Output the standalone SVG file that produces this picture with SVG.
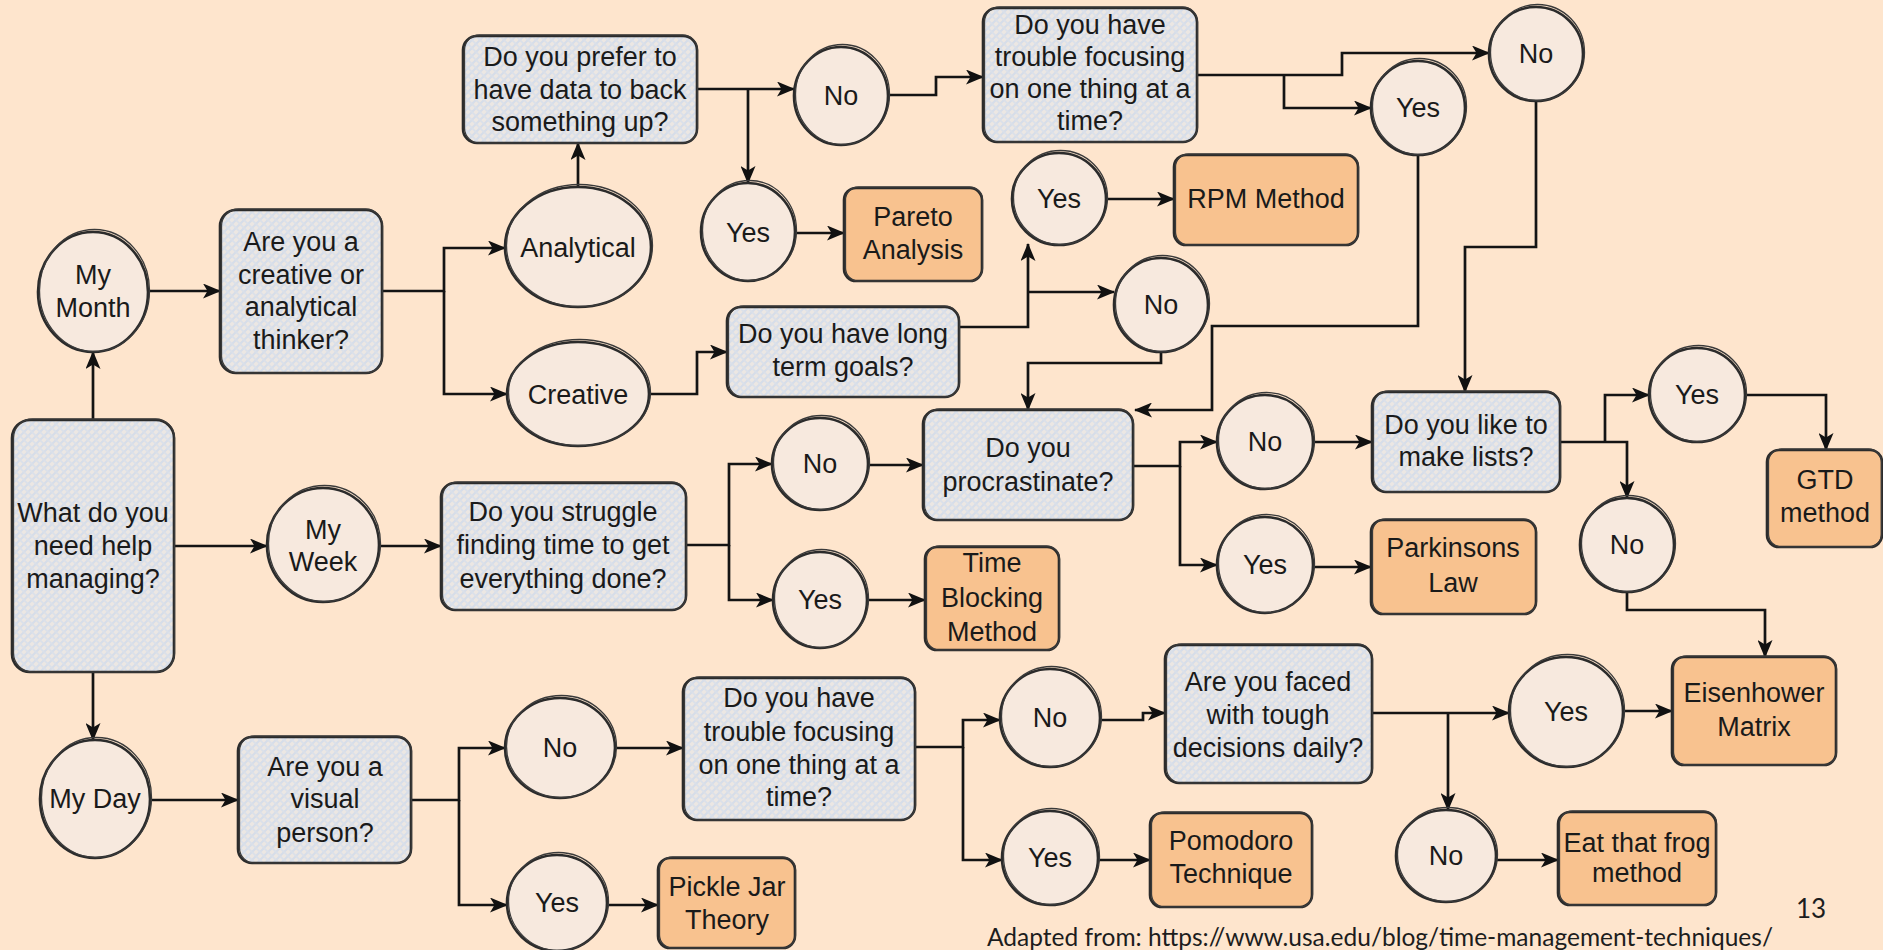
<svg xmlns="http://www.w3.org/2000/svg" width="1883" height="950" viewBox="0 0 1883 950">
<defs>
<pattern id="hatch" patternUnits="userSpaceOnUse" width="8" height="8">
<rect width="8" height="8" fill="#ECE7E3"/>
<path d="M0,8 L8,0 M-2,2 L2,-2 M6,10 L10,6" stroke="#D6DDE9" stroke-width="2"/>
<path d="M0,0 L8,8 M-2,6 L2,10 M6,-2 L10,2" stroke="#DAE0EA" stroke-width="1.6"/>
</pattern>
<marker id="arr" viewBox="0 0 18 15" refX="17" refY="7.5" markerWidth="18" markerHeight="15" markerUnits="userSpaceOnUse" orient="auto">
<path d="M0,0 L18,7.5 L0,15 L4.5,7.5 z" fill="#111"/>
</marker>
</defs>
<style>
.q{fill:url(#hatch);stroke:#2b2b2b;stroke-width:2.6}
.r{fill:#F8C28F;stroke:#2b2b2b;stroke-width:2.6}
.c{fill:#F7E9DE;stroke:#2b2b2b;stroke-width:2.6}
.sk{fill:none;stroke:#3a3a3a;stroke-width:1.3}
.t{font-family:"Liberation Sans",Arial,sans-serif;font-size:27px;fill:#1a1a1a;text-anchor:middle}
.e{fill:none;stroke:#141414;stroke-width:2.7;marker-end:url(#arr)}
.f{font-family:Lato,"Liberation Sans",sans-serif;fill:#1d1d1d}
</style>
<rect width="1883" height="950" fill="#FEE5CD"/>

<g id="connectors">
<path class="e" d="M93,420 V352"/>
<path class="e" d="M93,672 V740"/>
<path class="e" d="M174,546 H267"/>
<path class="e" d="M148,291 H220"/>
<path class="e" d="M382,291 H444 V248 H505"/>
<path class="e" d="M444,291 V394 H507"/>
<path class="e" d="M578,187 V143"/>
<path class="e" d="M697,89 H794"/>
<path class="e" d="M748,89 V183"/>
<path class="e" d="M795,233 H844"/>
<path class="e" d="M888,95 H936 V77 H983"/>
<path class="e" d="M1197,75 H1342 V53 H1489"/>
<path class="e" d="M1284,75 V108 H1371"/>
<path class="e" d="M1536,101 V247 H1465 V392"/>
<path class="e" d="M1418,155 V326 H1212 V410 H1135"/>
<path class="e" d="M649,394 H697 V352 H727"/>
<path class="e" d="M959,327 H1028 V244"/>
<path class="e" d="M1028,292 H1114"/>
<path class="e" d="M1106,199 H1174"/>
<path class="e" d="M1161,352 V363 H1028 V410"/>
<path class="e" d="M379,546 H441"/>
<path class="e" d="M686,545 H729 V464 H772"/>
<path class="e" d="M729,545 V600 H773"/>
<path class="e" d="M868,465 H923"/>
<path class="e" d="M867,600 H925"/>
<path class="e" d="M1133,466 H1180 V442 H1217"/>
<path class="e" d="M1180,466 V565 H1217"/>
<path class="e" d="M1313,442 H1372"/>
<path class="e" d="M1313,567 H1371"/>
<path class="e" d="M1560,442 H1627 V498"/>
<path class="e" d="M1605,442 V395 H1649"/>
<path class="e" d="M1745,395 H1826 V450"/>
<path class="e" d="M1627,592 V610 H1765 V657"/>
<path class="e" d="M150,800 H238"/>
<path class="e" d="M411,800 H459 V748 H505"/>
<path class="e" d="M459,800 V905 H507"/>
<path class="e" d="M607,905 H658"/>
<path class="e" d="M615,748 H683"/>
<path class="e" d="M915,747 H963 V720 H1000"/>
<path class="e" d="M963,747 V860 H1002"/>
<path class="e" d="M1100,720 H1143 V713 H1165"/>
<path class="e" d="M1372,713 H1509"/>
<path class="e" d="M1448,713 V810"/>
<path class="e" d="M1623,711 H1672"/>
<path class="e" d="M1098,860 H1150"/>
<path class="e" d="M1496,860 H1558"/>
</g>

<g id="what"><rect class="q" x="12" y="420" width="162" height="252" rx="18"/><rect class="sk" x="13.5" y="419" width="161" height="253" rx="19"/><text class="t" x="93" y="522">What do you</text><text class="t" x="93" y="555">need help</text><text class="t" x="93" y="588">managing?</text></g>
<g id="mymonth"><ellipse class="c" cx="93" cy="292" rx="55" ry="60"/><ellipse class="sk" cx="94.5" cy="290.5" rx="55" ry="61"/><text class="t" x="93" y="284">My</text><text class="t" x="93" y="317">Month</text></g>
<g id="areyou"><rect class="q" x="220" y="210" width="162" height="163" rx="16"/><rect class="sk" x="221.5" y="209" width="161" height="164" rx="17"/><text class="t" x="301" y="251">Are you a</text><text class="t" x="301" y="284">creative or</text><text class="t" x="301" y="316">analytical</text><text class="t" x="301" y="349">thinker?</text></g>
<g id="analytical"><ellipse class="c" cx="578" cy="247" rx="73" ry="60"/><ellipse class="sk" cx="579.5" cy="245.5" rx="73" ry="61"/><text class="t" x="578" y="257">Analytical</text></g>
<g id="creative"><ellipse class="c" cx="578" cy="394" rx="71" ry="52"/><ellipse class="sk" cx="579.5" cy="392.5" rx="71" ry="53"/><text class="t" x="578" y="404">Creative</text></g>
<g id="prefer"><rect class="q" x="463" y="36" width="234" height="107" rx="14"/><rect class="sk" x="464.5" y="35" width="233" height="108" rx="15"/><text class="t" x="580" y="66">Do you prefer to</text><text class="t" x="580" y="99">have data to back</text><text class="t" x="580" y="131">something up?</text></g>
<g id="no1"><ellipse class="c" cx="841" cy="96" rx="47" ry="49"/><ellipse class="sk" cx="842.5" cy="94.5" rx="47" ry="50"/><text class="t" x="841" y="105">No</text></g>
<g id="yes1"><ellipse class="c" cx="748" cy="232" rx="47" ry="49"/><ellipse class="sk" cx="749.5" cy="230.5" rx="47" ry="50"/><text class="t" x="748" y="242">Yes</text></g>
<g id="pareto"><rect class="r" x="844" y="188" width="138" height="93" rx="12"/><rect class="sk" x="845.5" y="187" width="137" height="94" rx="13"/><text class="t" x="913" y="226">Pareto</text><text class="t" x="913" y="259">Analysis</text></g>
<g id="trouble1"><rect class="q" x="983" y="8" width="214" height="134" rx="14"/><rect class="sk" x="984.5" y="7" width="213" height="135" rx="15"/><text class="t" x="1090" y="34">Do you have</text><text class="t" x="1090" y="66">trouble focusing</text><text class="t" x="1090" y="98">on one thing at a</text><text class="t" x="1090" y="130">time?</text></g>
<g id="no2"><ellipse class="c" cx="1536" cy="54" rx="47" ry="47"/><ellipse class="sk" cx="1537.5" cy="52.5" rx="47" ry="48"/><text class="t" x="1536" y="63">No</text></g>
<g id="yes2"><ellipse class="c" cx="1418" cy="108" rx="47" ry="47"/><ellipse class="sk" cx="1419.5" cy="106.5" rx="47" ry="48"/><text class="t" x="1418" y="117">Yes</text></g>
<g id="longterm"><rect class="q" x="727" y="307" width="232" height="90" rx="14"/><rect class="sk" x="728.5" y="306" width="231" height="91" rx="15"/><text class="t" x="843" y="343">Do you have long</text><text class="t" x="843" y="376">term goals?</text></g>
<g id="yes3"><ellipse class="c" cx="1059" cy="199" rx="47" ry="46"/><ellipse class="sk" cx="1060.5" cy="197.5" rx="47" ry="47"/><text class="t" x="1059" y="208">Yes</text></g>
<g id="rpm"><rect class="r" x="1174" y="155" width="184" height="90" rx="12"/><rect class="sk" x="1175.5" y="154" width="183" height="91" rx="13"/><text class="t" x="1266" y="208">RPM Method</text></g>
<g id="no3"><ellipse class="c" cx="1161" cy="305" rx="47" ry="47"/><ellipse class="sk" cx="1162.5" cy="303.5" rx="47" ry="48"/><text class="t" x="1161" y="314">No</text></g>
<g id="myweek"><ellipse class="c" cx="323" cy="545" rx="56" ry="57"/><ellipse class="sk" cx="324.5" cy="543.5" rx="56" ry="58"/><text class="t" x="323" y="539">My</text><text class="t" x="323" y="571">Week</text></g>
<g id="struggle"><rect class="q" x="441" y="483" width="245" height="127" rx="14"/><rect class="sk" x="442.5" y="482" width="244" height="128" rx="15"/><text class="t" x="563" y="521">Do you struggle</text><text class="t" x="563" y="554">finding time to get</text><text class="t" x="563" y="588">everything done?</text></g>
<g id="no4"><ellipse class="c" cx="820" cy="464" rx="48" ry="46"/><ellipse class="sk" cx="821.5" cy="462.5" rx="48" ry="47"/><text class="t" x="820" y="473">No</text></g>
<g id="yes4"><ellipse class="c" cx="820" cy="600" rx="47" ry="48"/><ellipse class="sk" cx="821.5" cy="598.5" rx="47" ry="49"/><text class="t" x="820" y="609">Yes</text></g>
<g id="timeblock"><rect class="r" x="925" y="547" width="134" height="103" rx="12"/><rect class="sk" x="926.5" y="546" width="133" height="104" rx="13"/><text class="t" x="992" y="572">Time</text><text class="t" x="992" y="607">Blocking</text><text class="t" x="992" y="641">Method</text></g>
<g id="procrast"><rect class="q" x="923" y="410" width="210" height="110" rx="14"/><rect class="sk" x="924.5" y="409" width="209" height="111" rx="15"/><text class="t" x="1028" y="457">Do you</text><text class="t" x="1028" y="491">procrastinate?</text></g>
<g id="no5"><ellipse class="c" cx="1265" cy="442" rx="48" ry="47"/><ellipse class="sk" cx="1266.5" cy="440.5" rx="48" ry="48"/><text class="t" x="1265" y="451">No</text></g>
<g id="yes5"><ellipse class="c" cx="1265" cy="565" rx="48" ry="48"/><ellipse class="sk" cx="1266.5" cy="563.5" rx="48" ry="49"/><text class="t" x="1265" y="574">Yes</text></g>
<g id="lists"><rect class="q" x="1372" y="392" width="188" height="100" rx="14"/><rect class="sk" x="1373.5" y="391" width="187" height="101" rx="15"/><text class="t" x="1466" y="434">Do you like to</text><text class="t" x="1466" y="466">make lists?</text></g>
<g id="parkinsons"><rect class="r" x="1371" y="520" width="165" height="94" rx="12"/><rect class="sk" x="1372.5" y="519" width="164" height="95" rx="13"/><text class="t" x="1453" y="557">Parkinsons</text><text class="t" x="1453" y="592">Law</text></g>
<g id="yes6"><ellipse class="c" cx="1697" cy="395" rx="48" ry="47"/><ellipse class="sk" cx="1698.5" cy="393.5" rx="48" ry="48"/><text class="t" x="1697" y="404">Yes</text></g>
<g id="gtd"><rect class="r" x="1767" y="450" width="115" height="97" rx="12"/><rect class="sk" x="1768.5" y="449" width="113" height="98" rx="13"/><text class="t" x="1825" y="489">GTD</text><text class="t" x="1825" y="522">method</text></g>
<g id="no6"><ellipse class="c" cx="1627" cy="545" rx="47" ry="47"/><ellipse class="sk" cx="1628.5" cy="543.5" rx="47" ry="48"/><text class="t" x="1627" y="554">No</text></g>
<g id="eisenhower"><rect class="r" x="1672" y="657" width="164" height="108" rx="12"/><rect class="sk" x="1673.5" y="656" width="163" height="109" rx="13"/><text class="t" x="1754" y="702">Eisenhower</text><text class="t" x="1754" y="736">Matrix</text></g>
<g id="myday"><ellipse class="c" cx="95" cy="799" rx="55" ry="59"/><ellipse class="sk" cx="96.5" cy="797.5" rx="55" ry="60"/><text class="t" x="95" y="808">My Day</text></g>
<g id="visual"><rect class="q" x="238" y="737" width="173" height="126" rx="14"/><rect class="sk" x="239.5" y="736" width="172" height="127" rx="15"/><text class="t" x="325" y="776">Are you a</text><text class="t" x="325" y="808">visual</text><text class="t" x="325" y="842">person?</text></g>
<g id="no7"><ellipse class="c" cx="560" cy="748" rx="55" ry="50"/><ellipse class="sk" cx="561.5" cy="746.5" rx="55" ry="51"/><text class="t" x="560" y="757">No</text></g>
<g id="yes7"><ellipse class="c" cx="557" cy="903" rx="50" ry="48"/><ellipse class="sk" cx="558.5" cy="901.5" rx="50" ry="49"/><text class="t" x="557" y="912">Yes</text></g>
<g id="pickle"><rect class="r" x="658" y="858" width="137" height="90" rx="12"/><rect class="sk" x="659.5" y="857" width="136" height="91" rx="13"/><text class="t" x="727" y="896">Pickle Jar</text><text class="t" x="727" y="929">Theory</text></g>
<g id="trouble2"><rect class="q" x="683" y="678" width="232" height="142" rx="14"/><rect class="sk" x="684.5" y="677" width="231" height="143" rx="15"/><text class="t" x="799" y="707">Do you have</text><text class="t" x="799" y="741">trouble focusing</text><text class="t" x="799" y="774">on one thing at a</text><text class="t" x="799" y="806">time?</text></g>
<g id="no8"><ellipse class="c" cx="1050" cy="718" rx="50" ry="49"/><ellipse class="sk" cx="1051.5" cy="716.5" rx="50" ry="50"/><text class="t" x="1050" y="727">No</text></g>
<g id="yes8"><ellipse class="c" cx="1050" cy="858" rx="48" ry="47"/><ellipse class="sk" cx="1051.5" cy="856.5" rx="48" ry="48"/><text class="t" x="1050" y="867">Yes</text></g>
<g id="pomodoro"><rect class="r" x="1150" y="813" width="162" height="94" rx="12"/><rect class="sk" x="1151.5" y="812" width="161" height="95" rx="13"/><text class="t" x="1231" y="850">Pomodoro</text><text class="t" x="1231" y="883">Technique</text></g>
<g id="faced"><rect class="q" x="1165" y="645" width="207" height="138" rx="14"/><rect class="sk" x="1166.5" y="644" width="206" height="139" rx="15"/><text class="t" x="1268" y="691">Are you faced</text><text class="t" x="1268" y="724">with tough</text><text class="t" x="1268" y="757">decisions daily?</text></g>
<g id="yes9"><ellipse class="c" cx="1566" cy="712" rx="57" ry="55"/><ellipse class="sk" cx="1567.5" cy="710.5" rx="57" ry="56"/><text class="t" x="1566" y="721">Yes</text></g>
<g id="no9"><ellipse class="c" cx="1446" cy="856" rx="50" ry="46"/><ellipse class="sk" cx="1447.5" cy="854.5" rx="50" ry="47"/><text class="t" x="1446" y="865">No</text></g>
<g id="frog"><rect class="r" x="1558" y="812" width="158" height="93" rx="12"/><rect class="sk" x="1559.5" y="811" width="157" height="94" rx="13"/><text class="t" x="1637" y="852">Eat that frog</text><text class="t" x="1637" y="882">method</text></g>

<g id="footer"><text class="f" x="987" y="946" font-size="24.5" textLength="786" lengthAdjust="spacingAndGlyphs">Adapted from: https://www.usa.edu/blog/time-management-techniques/</text><text class="f" x="1811" y="918" font-size="26" text-anchor="middle">13</text></g>
</svg>
